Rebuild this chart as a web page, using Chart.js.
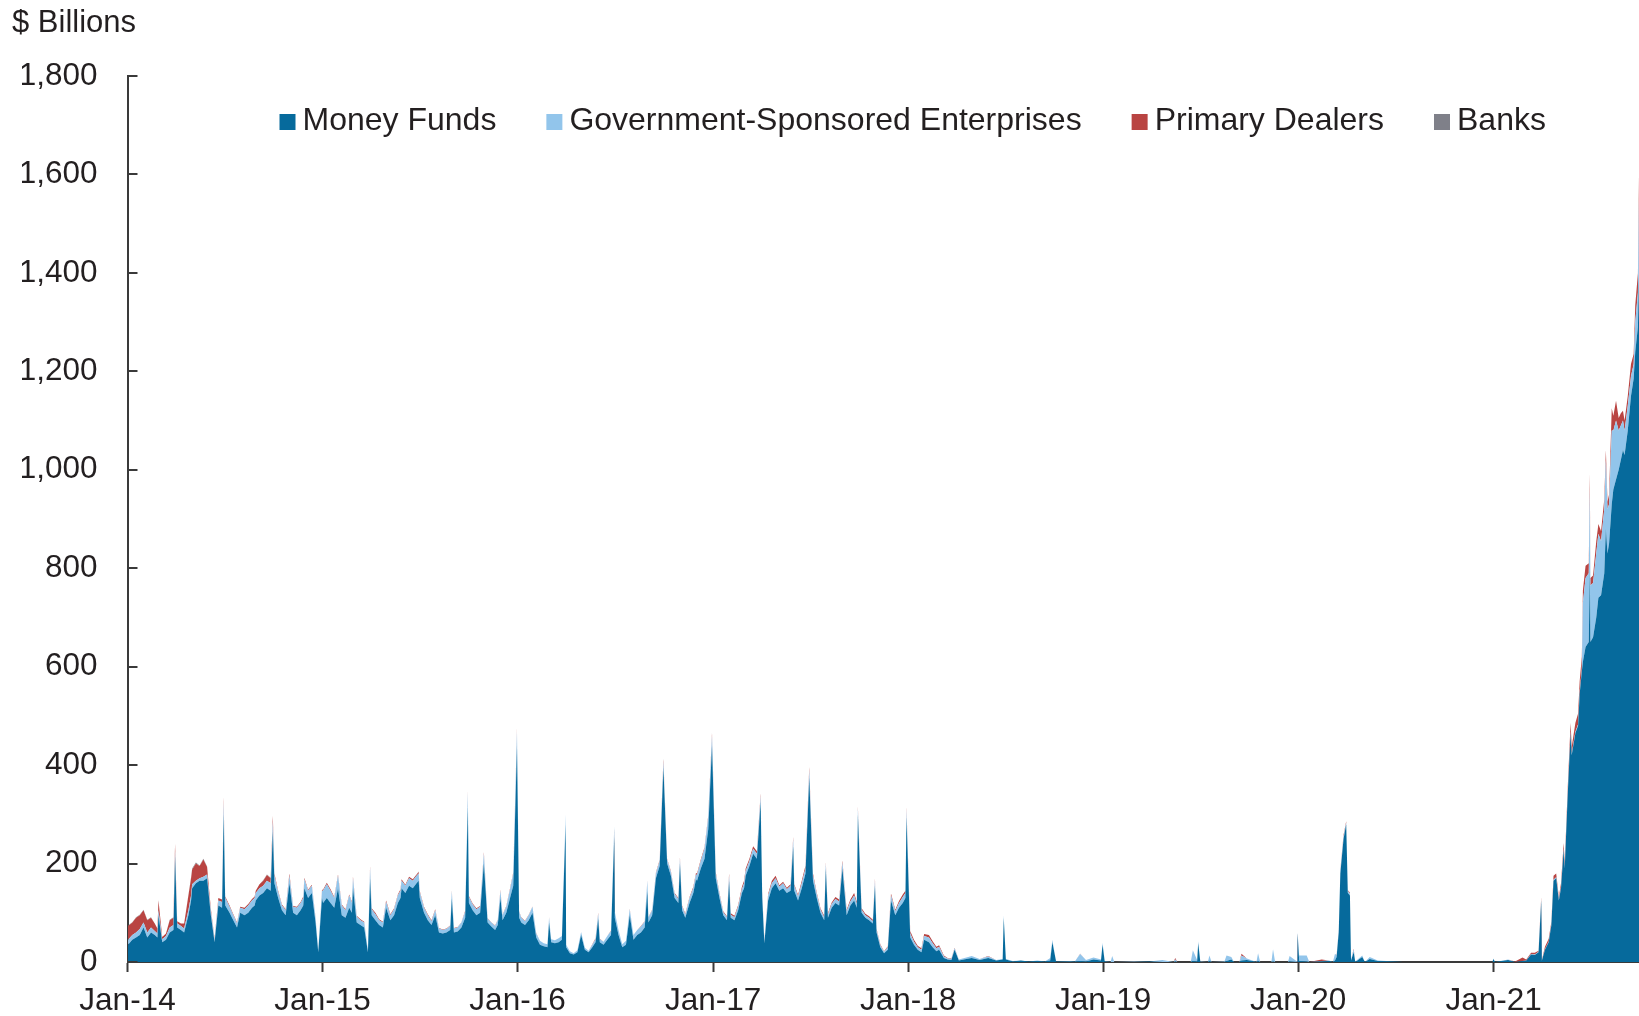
<!DOCTYPE html>
<html>
<head>
<meta charset="utf-8">
<title>Reverse repo by counterparty</title>
<script src="https://cdn.jsdelivr.net/npm/chart.js@4.4.1/dist/chart.umd.min.js"></script>
<style>
  html, body { margin: 0; padding: 0; background: #ffffff; }
  canvas { display: block; }
</style>
</head>
<body>
<canvas id="myChart" width="1639" height="1016"></canvas>
<script>
// ---- data ($ billions) ----
var seriesLabels = ["Money Funds", "Government-Sponsored Enterprises", "Primary Dealers", "Banks"];
var seriesColors = ["#066a9c", "#92c5eb", "#b94442", "#7f8089"];

var tickDates = ["2014-01-01","2015-01-01","2016-01-01","2017-01-01","2018-01-01","2019-01-01","2020-01-01","2021-01-01"];
var tickLabels = ["Jan-14","Jan-15","Jan-16","Jan-17","Jan-18","Jan-19","Jan-20","Jan-21"];
var firstDate = "2014-01-01";
var lastDate = "2021-09-30";

var dates = [
  // 2014
  "2014-01-02","2014-01-10","2014-01-17","2014-01-24","2014-01-31",
  "2014-02-07","2014-02-14","2014-02-21","2014-02-26","2014-02-28",
  "2014-03-07","2014-03-14","2014-03-21","2014-03-28","2014-03-31",
  "2014-04-04","2014-04-11","2014-04-17","2014-04-25","2014-04-30",
  "2014-05-02","2014-05-09","2014-05-16","2014-05-23","2014-05-30",
  "2014-06-06","2014-06-13","2014-06-20","2014-06-27","2014-06-30",
  "2014-07-03","2014-07-11","2014-07-18","2014-07-25","2014-07-31",
  "2014-08-08","2014-08-15","2014-08-22","2014-08-27","2014-08-29",
  "2014-09-05","2014-09-12","2014-09-19","2014-09-26","2014-09-30",
  "2014-10-03","2014-10-10","2014-10-17","2014-10-24","2014-10-31",
  "2014-11-07","2014-11-14","2014-11-21","2014-11-26","2014-11-28",
  "2014-12-05","2014-12-12","2014-12-19","2014-12-24","2014-12-31",
  // 2015
  "2015-01-02","2015-01-09","2015-01-16","2015-01-23","2015-01-30",
  "2015-02-06","2015-02-13","2015-02-20","2015-02-25","2015-02-27",
  "2015-03-06","2015-03-13","2015-03-20","2015-03-27","2015-03-31",
  "2015-04-03","2015-04-10","2015-04-17","2015-04-24","2015-04-30",
  "2015-05-08","2015-05-15","2015-05-22","2015-05-27","2015-05-29",
  "2015-06-05","2015-06-12","2015-06-19","2015-06-26","2015-06-30",
  "2015-07-02","2015-07-10","2015-07-17","2015-07-24","2015-07-31",
  "2015-08-07","2015-08-14","2015-08-21","2015-08-28","2015-08-31",
  "2015-09-04","2015-09-11","2015-09-18","2015-09-25","2015-09-30",
  "2015-10-02","2015-10-09","2015-10-16","2015-10-23","2015-10-30",
  "2015-11-06","2015-11-13","2015-11-20","2015-11-25","2015-11-30",
  "2015-12-04","2015-12-11","2015-12-18","2015-12-24","2015-12-31",
  // 2016
  "2016-01-04","2016-01-08","2016-01-15","2016-01-22","2016-01-29",
  "2016-02-05","2016-02-12","2016-02-19","2016-02-26","2016-02-29",
  "2016-03-04","2016-03-11","2016-03-18","2016-03-24","2016-03-31",
  "2016-04-01","2016-04-08","2016-04-15","2016-04-22","2016-04-29",
  "2016-05-06","2016-05-13","2016-05-20","2016-05-26","2016-05-31",
  "2016-06-03","2016-06-10","2016-06-17","2016-06-24","2016-06-30",
  "2016-07-01","2016-07-08","2016-07-15","2016-07-22","2016-07-29",
  "2016-08-05","2016-08-12","2016-08-19","2016-08-26","2016-08-31",
  "2016-09-02","2016-09-09","2016-09-16","2016-09-23","2016-09-30",
  "2016-10-07","2016-10-14","2016-10-21","2016-10-28","2016-10-31",
  "2016-11-04","2016-11-10","2016-11-18","2016-11-25","2016-11-30",
  "2016-12-02","2016-12-09","2016-12-16","2016-12-23","2016-12-30",
  // 2017
  "2017-01-06","2017-01-13","2017-01-20","2017-01-27","2017-01-31",
  "2017-02-03","2017-02-10","2017-02-17","2017-02-24","2017-02-28",
  "2017-03-03","2017-03-10","2017-03-17","2017-03-24","2017-03-31",
  "2017-04-03","2017-04-07","2017-04-14","2017-04-21","2017-04-28",
  "2017-05-05","2017-05-12","2017-05-19","2017-05-26","2017-05-31",
  "2017-06-02","2017-06-09","2017-06-16","2017-06-23","2017-06-30",
  "2017-07-07","2017-07-14","2017-07-21","2017-07-28","2017-07-31",
  "2017-08-04","2017-08-11","2017-08-18","2017-08-25","2017-08-31",
  "2017-09-08","2017-09-15","2017-09-22","2017-09-27","2017-09-29",
  "2017-10-06","2017-10-13","2017-10-20","2017-10-27","2017-10-31",
  "2017-11-03","2017-11-10","2017-11-17","2017-11-24","2017-11-30",
  "2017-12-08","2017-12-15","2017-12-22","2017-12-27","2017-12-29",
  // 2018
  "2018-01-05","2018-01-12","2018-01-19","2018-01-26","2018-01-31",
  "2018-02-09","2018-02-16","2018-02-23","2018-02-28",
  "2018-03-09","2018-03-16","2018-03-23","2018-03-29",
  "2018-04-06","2018-04-20","2018-04-30","2018-05-15","2018-05-31","2018-06-15","2018-06-27","2018-06-29",
  "2018-07-03","2018-07-16","2018-07-31","2018-08-15","2018-08-31","2018-09-14","2018-09-24","2018-09-28",
  "2018-10-05","2018-10-31","2018-11-09","2018-11-19","2018-11-30","2018-12-14","2018-12-28","2018-12-31",
  // 2019
  "2019-01-04","2019-01-15","2019-01-18","2019-01-22","2019-02-28","2019-03-29","2019-04-22","2019-05-13","2019-05-16","2019-05-20",
  "2019-06-14","2019-06-18","2019-06-26","2019-06-28","2019-07-02","2019-07-16","2019-07-19","2019-07-23","2019-08-16","2019-08-20",
  "2019-08-29","2019-09-03","2019-09-13","2019-09-17","2019-09-27","2019-10-15","2019-10-18","2019-10-22","2019-11-12","2019-11-15",
  "2019-11-19","2019-12-13","2019-12-16","2019-12-30","2019-12-31",
  // 2020
  "2020-01-03","2020-01-17","2020-01-22","2020-02-14","2020-02-28","2020-03-06","2020-03-10","2020-03-13","2020-03-17","2020-03-20",
  "2020-03-26","2020-03-31","2020-04-03","2020-04-07","2020-04-09","2020-04-14","2020-04-17","2020-04-30","2020-05-05","2020-05-14",
  "2020-05-29","2020-06-30","2020-07-15","2020-10-15","2020-12-30","2020-12-31",
  // 2021
  "2021-01-04","2021-01-28","2021-02-10","2021-02-24","2021-03-03","2021-03-12","2021-03-19","2021-03-26","2021-03-31","2021-04-01",
  "2021-04-07","2021-04-14","2021-04-19","2021-04-23","2021-04-28","2021-05-03","2021-05-07","2021-05-12","2021-05-14","2021-05-20",
  "2021-05-25","2021-05-27","2021-06-03","2021-06-08","2021-06-11","2021-06-15","2021-06-17","2021-06-22","2021-06-28","2021-06-30",
  "2021-07-01","2021-07-06","2021-07-12","2021-07-16","2021-07-21","2021-07-27","2021-07-30","2021-08-02","2021-08-05","2021-08-10",
  "2021-08-13","2021-08-18","2021-08-23","2021-08-27","2021-08-31","2021-09-03","2021-09-09","2021-09-15","2021-09-20","2021-09-23",
  "2021-09-28","2021-09-30"
];

var moneyFunds = [
  // 2014
  35,45,50,55,70,  50,60,55,50,95,  40,45,60,65,215,  70,65,60,95,125,
  150,160,165,165,170,  95,40,115,110,300,  115,100,85,70,100,  95,100,110,115,125,
  135,140,150,145,265,  160,130,105,95,160,  100,95,105,115,150,  130,140,80,20,130,
  // 2015
  120,130,120,110,150,  95,90,110,100,150,  80,75,70,20,170,  95,85,75,70,110,
  85,95,120,130,150,  140,155,150,160,165,  130,100,85,75,95,  60,58,60,65,130,
  60,62,70,90,315,  120,105,95,100,200,  80,72,65,75,130,  85,100,130,155,440,
  // 2016
  90,80,75,85,100,  50,35,32,30,80,  40,38,40,45,280,  30,18,15,20,55,
  25,20,30,40,88,  40,35,45,55,255,  90,55,30,35,95,  45,55,60,70,145,
  80,95,170,195,395,  200,175,130,120,200,  105,90,120,140,168,  165,190,210,270,440,
  // 2017
  170,130,95,85,165,  90,85,105,140,150,  175,195,220,210,325,  130,38,125,150,160,
  145,150,140,145,235,  145,125,150,180,375,  165,130,100,85,190,  90,110,120,115,190,
  95,115,125,110,300,  100,90,85,78,155,  60,30,18,25,125,  95,110,120,130,295,
  // 2018
  50,35,25,20,45,
  40,30,22,25,
  8,5,4,25,
  3,6,8,4,8,3,5,90,
  5,1,3,1,2,1,3,40,
  1,1,1,2,1,5,3,35,
  // 2019
  1,0,0,0,0,1,0,0,1,0,
  0,2,1,38,0,0,2,0,0,2,
  5,0,0,3,4,0,2,0,0,1,
  0,0,1,0,58,
  // 2020
  2,1,0,1,2,0,3,10,60,180,
  250,280,140,135,3,20,0,10,0,6,
  2,1,0,0,0,6,
  // 2021
  0,4,0,2,3,15,14,20,125,2,
  25,40,75,165,170,125,150,228,190,350,
  465,420,465,480,545,590,610,640,650,800,
  650,660,700,740,745,790,880,830,850,930,
  960,980,1000,1020,1040,1030,1080,1150,1185,1240,
  1290,1400
];

var gse = [
  // 2014
  10,10,10,12,10,  10,10,8,8,10,  6,8,10,10,10,  8,8,8,10,10,
  8,5,5,8,8,  8,5,10,12,25,  15,12,10,8,10,  12,15,15,15,15,
  15,15,15,15,20,  15,12,10,10,15,  12,15,15,15,18,  15,15,10,5,15,
  // 2015
  25,28,25,20,25,  20,15,25,20,20,  12,10,10,5,22,  12,12,10,10,12,
  10,12,15,15,15,  15,15,15,15,15,  12,10,10,8,10,  8,7,7,8,14,
  8,8,10,12,30,  12,12,12,12,20,  8,8,8,10,15,  10,12,18,25,30,
  // 2016
  12,10,8,10,12,  8,8,6,6,10,  6,6,8,8,20,  5,4,3,4,6,
  4,3,5,6,10,  6,6,8,8,22,  12,10,6,8,12,  10,10,12,12,20,
  10,10,10,10,12,  8,8,8,8,10,  8,6,10,10,10,  12,15,20,25,20,
  // 2017
  10,8,6,6,10,  6,6,8,8,10,  10,10,10,10,12,  8,5,10,10,10,
  8,10,8,10,15,  10,8,10,10,15,  10,8,6,6,10,  6,8,8,8,12,
  8,8,10,8,12,  6,5,5,5,10,  5,4,3,5,10,  8,10,12,10,15,
  // 2018
  8,6,5,5,8,
  10,8,6,6,
  3,2,2,3,
  2,3,4,2,3,1,1,5,
  1,1,0,0,1,0,5,5,
  0,1,0,14,3,4,2,4,
  // 2019
  1,0,12,0,1,0,4,0,4,0,
  0,22,3,4,1,0,11,0,1,11,
  5,0,0,10,3,0,16,0,0,25,
  0,0,11,1,3,
  // 2020
  11,12,0,1,1,0,14,3,5,5,
  5,3,4,4,1,5,1,3,0,4,
  1,0,0,0,0,1,
  // 2021
  0,1,0,0,0,1,1,1,2,0,
  1,1,2,2,2,2,2,2,2,3,
  3,3,3,3,4,5,120,140,140,160,
  115,110,130,130,110,130,140,90,80,150,
  120,120,80,70,60,50,50,40,30,60,
  70,150
];

var dealers = [
  // 2014
  28,25,30,28,25,  25,20,15,10,20,  5,5,15,15,15,  5,5,10,30,35,
  30,35,25,35,15,  5,2,5,5,10,  3,3,2,2,2,  3,3,3,3,5,
  8,10,12,10,12,  5,3,2,2,5,  2,2,2,3,3,  2,2,1,0,2,
  // 2015
  2,3,3,2,3,  2,2,2,2,3,  2,2,2,0,3,  2,3,2,2,3,
  2,2,2,3,3,  2,3,3,3,3,  2,2,2,2,2,  1,1,1,1,2,
  1,1,1,2,3,  2,2,2,2,3,  1,1,1,1,2,  1,2,2,2,5,
  // 2016
  1,1,1,1,1,  1,0,0,0,1,  0,0,0,0,1,  0,0,0,0,0,
  0,0,1,2,2,  1,0,0,1,1,  0,0,0,0,1,  0,0,1,1,1,
  1,1,2,2,5,  2,2,2,2,3,  2,2,2,3,3,  3,3,3,3,5,
  // 2017
  3,2,2,2,5,  3,3,3,5,5,  5,5,5,5,5,  3,1,3,5,5,
  3,3,3,3,4,  3,3,5,6,6,  5,3,3,3,3,  3,3,4,4,4,
  3,4,5,4,4,  3,3,3,3,4,  2,2,1,2,4,  3,4,5,5,5,
  // 2018
  5,4,3,3,4,
  5,4,3,3,
  2,1,1,1,
  0,0,0,0,1,0,0,1,
  0,0,0,0,0,0,0,0,
  0,0,0,1,0,0,0,0,
  // 2019
  0,0,0,0,0,0,0,0,3,0,
  0,0,0,0,0,0,0,0,0,0,
  0,0,0,4,0,0,0,0,0,0,
  0,0,0,0,0,
  // 2020
  0,0,0,3,0,0,0,1,1,2,
  3,3,2,2,0,2,0,0,0,0,
  0,0,0,0,0,0,
  // 2021
  0,0,1,7,2,3,4,2,5,1,
  5,6,5,8,8,5,8,12,9,12,
  18,14,18,22,22,25,25,25,20,33,
  15,15,25,20,20,20,20,15,20,45,
  30,40,25,25,20,20,20,25,20,35,
  40,50
];

var banks = [
  // 2014
  1,1,1,1,1,  1,1,0,0,1,  0,0,1,1,1,  0,0,0,1,2,
  2,2,1,2,1,  0,0,0,0,1,  0,0,0,0,0,  0,0,0,0,0,
  0,1,1,1,1,  0,0,0,0,0,  0,0,0,0,0,  0,0,0,0,0,
  // 2015
  0,0,0,0,0,  0,0,0,0,0,  0,0,0,0,1,  0,0,0,0,0,
  0,0,0,0,0,  0,0,0,0,1,  0,0,0,0,0,  0,0,0,0,0,
  0,0,0,0,1,  0,0,0,0,0,  0,0,0,0,0,  0,0,0,0,1,
  // 2016
  0,0,0,0,0,  0,0,0,0,0,  0,0,0,0,1,  0,0,0,0,0,
  0,0,0,0,0,  0,0,0,0,1,  0,0,0,0,0,  0,0,0,0,0,
  0,0,0,0,2,  0,0,0,0,0,  0,0,0,0,0,  0,0,0,0,1,
  // 2017
  0,0,0,0,0,  0,0,0,0,0,  0,0,0,0,1,  0,0,0,0,0,
  0,0,0,0,0,  0,0,0,0,1,  0,0,0,0,0,  0,0,0,0,0,
  0,0,0,0,1,  0,0,0,0,0,  0,0,0,0,0,  0,0,0,0,1,
  // 2018
  0,0,0,0,0,
  0,0,0,0,
  0,0,0,0,
  0,0,0,0,0,0,0,0,
  0,0,0,0,0,0,0,0,
  0,0,0,0,0,0,0,0,
  // 2019
  0,0,0,0,0,0,0,0,0,0,
  0,0,0,0,0,0,0,0,0,0,
  0,0,0,0,0,0,0,0,0,0,
  0,0,0,0,0,
  // 2020
  0,0,0,0,0,0,0,0,0,0,
  0,0,0,0,0,0,0,0,0,0,
  0,0,0,0,0,0,
  // 2021
  0,0,0,0,0,0,0,0,0,0,
  0,0,0,0,0,0,0,0,0,0,
  0,0,0,0,0,0,0,0,0,0,
  0,0,0,0,0,0,0,0,0,0,
  0,0,0,0,0,0,0,0,0,0,
  0,5
];

var yMax = 1800;
var yStep = 200;

// ---- helpers ----
var textColor = "#231f20";
var axisColor = "#3a3a3a";
var fontFamily = '"Liberation Sans", Arial, Helvetica, sans-serif';

// days since first date
function dayOf(s) {
  var p = s.split("-");
  var a = Date.UTC(+p[0], +p[1] - 1, +p[2]);
  var f = firstDate.split("-");
  var b = Date.UTC(+f[0], +f[1] - 1, +f[2]);
  return (a - b) / 86400000;
}

var seriesValues = [moneyFunds, gse, dealers, banks];
seriesValues.forEach(function (arr, i) {
  if (arr.length !== dates.length) {
    throw new Error("series " + i + " has " + arr.length + " values, dates has " + dates.length);
  }
});

var xDays = dates.map(dayOf);
var tickDays = tickDates.map(dayOf);

var datasets = seriesLabels.map(function (label, i) {
  return {
    label: label,
    data: xDays.map(function (d, j) { return { x: d, y: seriesValues[i][j] }; }),
    backgroundColor: seriesColors[i],
    borderColor: "rgba(0,0,0,0)",
    borderWidth: 0,
    pointRadius: 0,
    pointHoverRadius: 0,
    tension: 0,
    fill: i === 0 ? "origin" : "-1"
  };
});

// inward tick marks on the y axis
var yTickMarks = {
  id: "yTickMarks",
  afterDraw: function (chart) {
    var ctx = chart.ctx;
    var y = chart.scales.y;
    var left = chart.chartArea.left;
    ctx.save();
    ctx.strokeStyle = axisColor;
    ctx.lineWidth = 2;
    y.ticks.forEach(function (t) {
      var py = Math.round(y.getPixelForValue(t.value));
      ctx.beginPath();
      ctx.moveTo(left, py);
      ctx.lineTo(left + 10, py);
      ctx.stroke();
    });
    ctx.restore();
  }
};

// unit label + legend row inside the plot
var labelsAndLegend = {
  id: "labelsAndLegend",
  afterDraw: function (chart) {
    var ctx = chart.ctx;
    ctx.save();
    ctx.fillStyle = textColor;
    ctx.textBaseline = "alphabetic";
    ctx.textAlign = "left";
    ctx.font = "31px " + fontFamily;
    ctx.fillText("$ Billions", 12, 32);

    ctx.font = "32px " + fontFamily;
    var x = chart.chartArea.left + 152;
    chart.data.datasets.forEach(function (ds) {
      ctx.fillStyle = ds.backgroundColor;
      ctx.fillRect(x, 114, 16, 16);
      ctx.fillStyle = textColor;
      ctx.fillText(ds.label, x + 23, 130);
      x += 23 + ctx.measureText(ds.label).width + 50;
    });
    ctx.restore();
  }
};

Chart.defaults.font.family = fontFamily;
Chart.defaults.font.size = 31.5;
Chart.defaults.color = textColor;

var ctx = document.getElementById("myChart");
var myChart = new Chart(ctx, {
  type: "line",
  data: { datasets: datasets },
  options: {
    responsive: false,
    animation: false,
    devicePixelRatio: 1,
    layout: { padding: { left: 22, right: 0, top: 76, bottom: 0 } },
    plugins: {
      legend: { display: false },
      tooltip: { enabled: false }
    },
    scales: {
      x: {
        type: "linear",
        min: 0,
        max: dayOf(lastDate),
        afterBuildTicks: function (axis) {
          axis.ticks = tickDays.map(function (v) { return { value: v }; });
        },
        afterFit: function (axis) { axis.height = 54; },
        ticks: {
          autoSkip: false,
          maxRotation: 0,
          padding: 10,
          callback: function (value, index) { return tickLabels[index]; }
        },
        grid: {
          display: true,
          drawOnChartArea: false,
          drawTicks: true,
          tickLength: 10,
          tickWidth: 2,
          tickColor: axisColor
        },
        border: { display: true, color: axisColor, width: 2 }
      },
      y: {
        stacked: true,
        min: 0,
        max: yMax,
        afterFit: function (axis) { axis.width = 105.5; },
        ticks: {
          stepSize: yStep,
          padding: 30,
          callback: function (v) { return v.toLocaleString("en-US"); }
        },
        grid: { display: false, drawTicks: false, tickLength: 0 },
        border: { display: true, color: axisColor, width: 2 }
      }
    }
  },
  plugins: [yTickMarks, labelsAndLegend]
});
</script>
</body>
</html>
